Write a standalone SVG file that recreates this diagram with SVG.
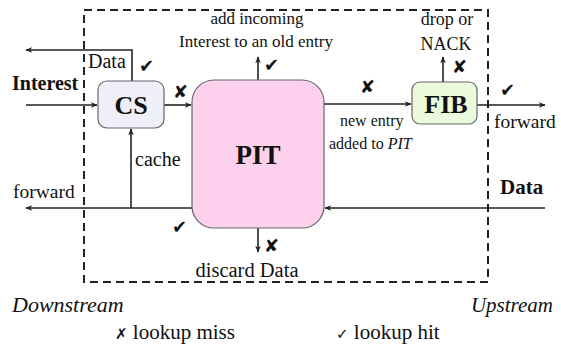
<svg xmlns="http://www.w3.org/2000/svg" width="561" height="349" viewBox="0 0 561 349">
<style>
text{font-family:"Liberation Serif","Times New Roman",serif;fill:#111}
.b{font-weight:bold}
.i{font-style:italic}
.m{font-family:"DejaVu Sans",sans-serif;font-weight:bold;font-size:18px;fill:#111}
.ln{stroke:#222;stroke-width:1.6;fill:none}
.box{stroke:#666;stroke-width:1.2}
</style>
<defs>
<marker id="ah" viewBox="0 0 10 10" refX="9" refY="5" markerWidth="7" markerHeight="7" orient="auto" markerUnits="userSpaceOnUse">
<path d="M0,1 L10,5 L0,9 L3,5 Z" fill="#222"/>
</marker>
</defs>
<rect x="84" y="10" width="404" height="272" fill="none" stroke="#222" stroke-width="2" stroke-dasharray="8 5"/>
<g id="connectors">
<path class="ln" d="M26,105 H97" marker-end="url(#ah)"/>
<path class="ln" d="M132,81 V50 H26" marker-end="url(#ah)"/>
<path class="ln" d="M164,105 H191" marker-end="url(#ah)"/>
<path class="ln" d="M324,104 H411" marker-end="url(#ah)"/>
<path class="ln" d="M477,105 H545" marker-end="url(#ah)"/>
<path class="ln" d="M258,80 V57" marker-end="url(#ah)"/>
<path class="ln" d="M443,82 V57" marker-end="url(#ah)"/>
<path class="ln" d="M545,208 H325" marker-end="url(#ah)"/>
<path class="ln" d="M192,208 H26" marker-end="url(#ah)"/>
<path class="ln" d="M131,208 V129" marker-end="url(#ah)"/>
<path class="ln" d="M258,228 V252" marker-end="url(#ah)"/>
</g>
<g id="CS">
<rect class="box" x="98" y="81" width="66" height="47" rx="9" fill="#efeffa"/>
<text class="b" x="131" y="114" font-size="26" text-anchor="middle">CS</text>
</g>
<g id="PIT">
<rect class="box" x="192" y="80" width="132" height="148" rx="22" fill="#fdd0ee"/>
<text class="b" x="258" y="164" font-size="27" text-anchor="middle">PIT</text>
</g>
<g id="FIB">
<rect class="box" x="412" y="82" width="65" height="42" rx="8" fill="#ebfadd"/>
<text class="b" x="446" y="113" font-size="26" text-anchor="middle">FIB</text>
</g>
<g id="labels">
<text x="88" y="68" font-size="20">Data</text>
<text class="m" x="139" y="72">✔</text>
<text class="b" x="12" y="90" font-size="20">Interest</text>
<text class="m" x="173" y="98">✘</text>
<text x="257" y="24" font-size="17" text-anchor="middle">add incoming</text>
<text x="256" y="47" font-size="17" text-anchor="middle">Interest to an old entry</text>
<text class="m" x="264" y="71">✔</text>
<text class="m" x="360" y="93">✘</text>
<text x="340" y="126" font-size="16">new entry</text>
<text x="329" y="149" font-size="16">added to <tspan class="i">PIT</tspan></text>
<text x="447" y="25" font-size="18" text-anchor="middle">drop or</text>
<text x="446" y="50" font-size="18" text-anchor="middle">NACK</text>
<text class="m" x="452" y="73">✘</text>
<text class="m" x="500" y="96">✔</text>
<text x="494" y="128" font-size="19.5">forward</text>
<text x="135" y="166" font-size="20">cache</text>
<text x="13" y="198" font-size="19.5">forward</text>
<text class="b" x="500" y="194" font-size="21">Data</text>
<text class="m" x="172" y="233">✔</text>
<text class="m" x="264" y="252">✘</text>
<text x="247" y="277" font-size="20.5" text-anchor="middle">discard Data</text>
<text class="i" x="12" y="312" font-size="22">Downstream</text>
<text class="i" x="553" y="312" font-size="21" text-anchor="end">Upstream</text>
<text x="115" y="339" font-size="21"><tspan font-family="DejaVu Sans,sans-serif" font-size="15">✗</tspan> lookup miss</text>
<text x="336" y="339" font-size="21"><tspan font-family="DejaVu Sans,sans-serif" font-size="15">✓</tspan> lookup hit</text>
</g>
</svg>
